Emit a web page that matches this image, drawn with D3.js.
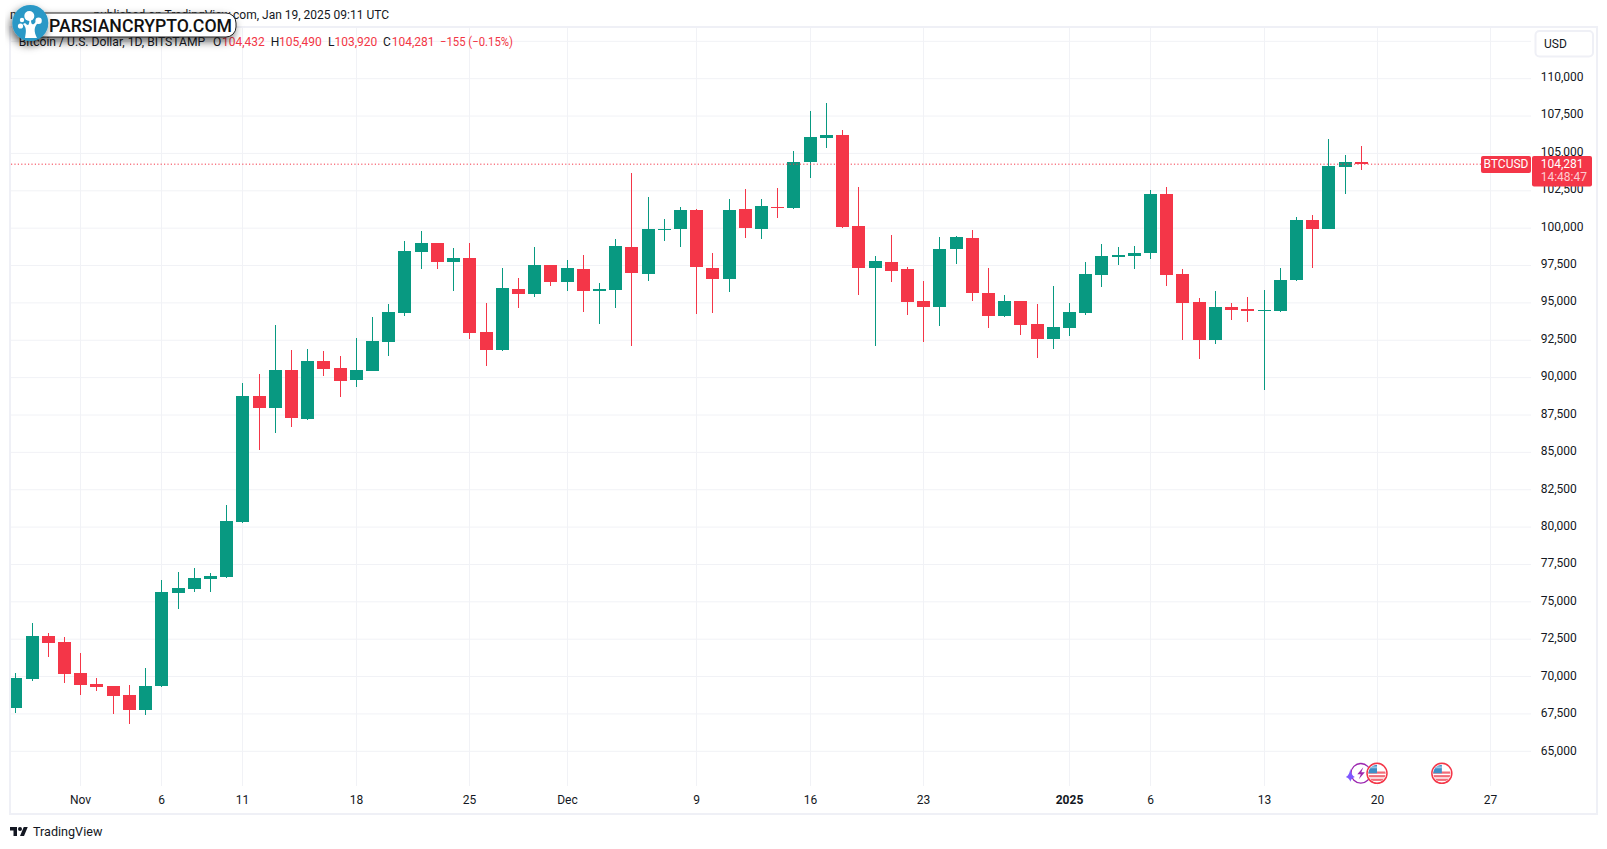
<!DOCTYPE html>
<html>
<head>
<meta charset="utf-8">
<script src="https://cdn.jsdelivr.net/npm/d3@7/dist/d3.min.js"></script>
<style>
html,body{margin:0;padding:0;background:#fff;overflow:hidden}
svg{display:block}
text{font-family:Roboto,"Noto Sans",sans-serif}
</style>
</head>
<body>
<svg id="chart" width="1607" height="849"></svg>
<script>
// Daily BTC/USD candles, 28 Oct 2024 .. 19 Jan 2025 (Oct 4, Nov 30, Dec 31, Jan 19 values)
const firstDay = "2024-10-28";
const open = [
 67900,69840,72720,72320,
 70240,69510,69370,68770,67770,69370,75590,75860,76530,76660,80340,88770,87970,90510,87230,91110,90650,89840,90440,92390,94330,98400,99010,97740,98010,93050,91850,95930,95600,97540,
 96400,97270,95800,95860,98740,96930,99880,99950,101220,97340,96600,101280,99950,101420,101350,104430,106030,106230,100150,97340,97740,97270,95130,94730,98610,99340,95660,94130,95130,93590,92590,
 93320,94330,96870,98070,98140,98340,102290,96930,95060,92520,94730,94590,94460,94460,96530,100550,99950,104090,104432];
const high = [
 70240,73590,72920,72650,
 71580,69910,69370,69440,70580,76460,77000,77270,76930,81480,89640,90240,93520,91850,91920,91780,91450,92650,94060,94930,99140,99810,99010,98670,99010,94990,97340,96670,98740,97540,
 97870,98210,96330,99280,103690,102090,100610,101420,101280,98340,101950,102620,101950,102690,105160,107840,108380,106570,102760,98140,99540,97400,96460,99410,99480,99880,97340,95530,95130,94930,96130,
 94990,97740,98940,98740,98810,102550,102760,97270,95330,95800,94990,95400,95860,97340,100750,100880,105970,104900,105490];
const low = [
 67570,69710,71310,69570,
 68770,69040,67500,66830,67430,69310,74520,75660,75660,76600,80280,85160,86300,86700,87170,90110,88700,89380,90440,91450,94130,97270,97270,95800,92590,90780,91780,94660,95400,96130,
 95800,94390,93590,94660,92120,96460,99140,98740,94260,94330,95730,99340,99280,100680,101280,103360,105360,100010,95530,92120,96400,94190,92390,93460,97600,95130,93320,94060,92850,91310,91920,
 92790,94190,96060,97540,97270,97940,96130,92520,91250,92250,93860,93720,89180,94390,96460,97340,99950,102290,103920];
const close = [
 69910,72720,72250,70170,
 69440,69310,68700,67770,69370,75660,75930,76600,76730,80410,88770,87970,90510,87300,91110,90580,89780,90510,92450,94390,98470,99010,97740,98010,92990,91850,96000,95600,97540,96400,
 97340,95800,95930,98810,97000,99950,99950,101220,97400,96600,101220,100010,101480,101350,104430,106100,106230,100080,97340,97800,97140,95060,94730,98610,99410,95660,94130,95130,93520,92590,93390,
 94390,96930,98140,98210,98340,102290,96870,94990,92520,94730,94530,94460,94530,96530,100550,99950,104160,104430,104281];

const priceTicks = [65000,67500,70000,72500,75000,77500,80000,82500,85000,87500,90000,92500,95000,97500,100000,102500,105000,107500,110000];
const gridPrices = priceTicks.concat([112500]);
const timeTickDates = ["2024-11-01","2024-11-06","2024-11-11","2024-11-18","2024-11-25","2024-12-01","2024-12-09","2024-12-16","2024-12-23","2025-01-01","2025-01-06","2025-01-13","2025-01-20","2025-01-27"];
const timeTickLabels = ["Nov","6","11","18","25","Dec","9","16","23","2025","6","13","20","27"];
const lastPrice = 104281;
const usEventDays = ["2025-01-20","2025-01-24"];
const legendParts = [
 ["Bitcoin / U.S. Dollar, 1D, BITSTAMP",18.7,"#131722",186.5],["O",213,"#131722"],["104,432",222,"#f23645"],
 ["H",270.7,"#131722"],["105,490",279,"#f23645"],["L",328,"#131722"],["103,920",334.5,"#f23645"],
 ["C",383,"#131722"],["104,281",391.7,"#f23645"],["\u2212155 (\u22120.15%)",440,"#f23645",73]];

const GREEN="#089981", RED="#f43648", GRID="#f1f2f6", FRAME="#eff0f6", INK="#131722";
const parse = d3.utcParse("%Y-%m-%d");
const dayOf = i => d3.utcDay.offset(parse(firstDay), i);

const x = d3.scaleUtc().domain([parse("2024-11-01"),parse("2025-01-27")]).range([80.786,1490.97]);
const y = d3.scaleLinear().domain([65000,110000]).range([751.3,78.7]);

const svg = d3.select("#chart");
const defs = svg.append("defs");
defs.append("clipPath").attr("id","pane").append("rect").attr("x",11).attr("y",28).attr("width",1520).attr("height",758);
const shadow = defs.append("filter").attr("id","sh").attr("x","-20%").attr("y","-60%").attr("width","140%").attr("height","240%");
shadow.append("feDropShadow").attr("dx",-2).attr("dy",4).attr("stdDeviation",4).attr("flood-color","#000").attr("flood-opacity",0.6);
defs.append("clipPath").attr("id","flagc").append("circle").attr("r",8.6);

// frame
svg.append("rect").attr("x",10).attr("y",27).attr("width",1587).attr("height",787).attr("fill","none").attr("stroke",FRAME).attr("stroke-width",2);

// grid
const hGrid = svg.append("g").attr("transform","translate(11,0)")
  .call(d3.axisRight(y).tickValues(gridPrices).tickSize(1520).tickFormat("").offset(0));
const vGrid = svg.append("g").attr("transform","translate(0,786)")
  .call(d3.axisBottom(x).tickValues(timeTickDates.map(parse)).tickSize(-758).tickFormat("").offset(0));
vGrid.selectAll(".tick").attr("transform",d=>`translate(${Math.floor(x(d))+0.5},0)`);
[hGrid,vGrid].forEach(g=>{g.select(".domain").remove();g.selectAll("line").attr("stroke",GRID).attr("stroke-width",1);});

// axes labels
const yAxis = svg.append("g").attr("transform","translate(1531,0)")
  .call(d3.axisRight(y).tickValues(priceTicks).tickSize(0).tickPadding(9.7).tickFormat(d3.format(",")).offset(0));
yAxis.select(".domain").remove();
yAxis.selectAll("text").attr("font-size",12).attr("fill",INK)
  .attr("font-family","Roboto").attr("dy",d=>(0.32*12-1.6+(110000-d)/45000*1.0));
const xAxis = svg.append("g").attr("transform","translate(0,786)")
  .call(d3.axisBottom(x).tickValues(timeTickDates.map(parse)).tickSize(0).tickPadding(9.5).tickFormat((d,i)=>timeTickLabels[i]).offset(0));
xAxis.select(".domain").remove();
xAxis.selectAll(".tick").attr("transform",d=>`translate(${Math.floor(x(d))+0.5},0)`);
xAxis.selectAll("text").attr("font-size",12).attr("fill",INK).attr("dy","0.71em")
  .attr("font-weight",(d,i)=>timeTickLabels[i]==="2025"?700:400);

// candles
const candles = svg.append("g").attr("clip-path","url(#pane)").attr("shape-rendering","crispEdges")
  .selectAll("g").data(open.map((o,i)=>({d:dayOf(i),o,h:high[i],l:low[i],c:close[i]}))).join("g");
const px = d => Math.floor(x(d.d));
const col = d => d.c>=d.o?GREEN:RED;
candles.append("rect").attr("x",px).attr("width",1)
  .attr("y",d=>y(d.h)).attr("height",d=>y(d.l)-y(d.h)).attr("fill",col);
candles.append("rect").attr("x",d=>px(d)-6).attr("width",13)
  .attr("y",d=>y(Math.max(d.o,d.c))).attr("height",d=>Math.max(1,Math.abs(y(d.o)-y(d.c)))).attr("fill",col);

// last price line and tags
svg.append("line").attr("x1",11).attr("x2",1481).attr("y1",y(lastPrice)).attr("y2",y(lastPrice))
  .attr("stroke",RED).attr("stroke-width",1).attr("stroke-dasharray","1.2 2.2");
svg.append("rect").attr("x",1481).attr("y",156).attr("width",50).attr("height",17).attr("rx",2).attr("fill",RED);
svg.append("rect").attr("x",1532).attr("y",156).attr("width",60).attr("height",30.5).attr("rx",2).attr("fill",RED);
svg.append("text").attr("x",1506).attr("y",168.2).attr("text-anchor","middle").attr("font-size",12).attr("fill","#fff").text("BTCUSD");
svg.append("text").attr("x",1540.7).attr("y",168.2).attr("font-size",12).attr("fill","#fff").text(d3.format(",")(lastPrice));
svg.append("text").attr("x",1540.7).attr("y",181.2).attr("font-size",12).attr("fill","#fff").attr("fill-opacity",0.75).text("14:48:47");

// currency box
svg.append("rect").attr("x",1535.5).attr("y",31).attr("width",57.5).attr("height",25.5).attr("rx",4).attr("fill","#fff").attr("stroke",FRAME).attr("stroke-width",2);
svg.append("text").attr("x",1544).attr("y",48).attr("font-size",12).attr("fill",INK).text("USD");

// events
const ev = svg.append("g").attr("transform",`translate(${x(parse("2025-01-19"))-0.5},773.3)`);
ev.append("circle").attr("r",9.8).attr("fill","#fff").attr("stroke","#9c27b0").attr("stroke-width",1.3);
ev.append("path").attr("d","M2.5-6L-3.5 1H0L-2 6L4-1H0.5Z").attr("fill","#9c27b0");
ev.append("path").attr("d","M-10.5-4.5Q-9.5 2.5-6 3.7Q-9.5 4.6-10.5 8.5Q-11.5 4.6-15 3.7Q-11.5 2.5-10.5-4.5Z").attr("fill","#7e57ff");
const flags = svg.append("g").selectAll("g").data(usEventDays.map(parse)).join("g")
  .attr("transform",d=>`translate(${x(d)-0.5},773.3)`);
flags.append("circle").attr("r",10).attr("fill","#fff").attr("stroke",RED).attr("stroke-width",1.5);
const fl = flags.append("g").attr("clip-path","url(#flagc)");
[-1.8,1.8,5.4].forEach(dy=>fl.append("rect").attr("x",-10).attr("y",dy).attr("width",20).attr("height",2.2).attr("fill","#f26b78"));
fl.append("rect").attr("x",-10).attr("y",-10).attr("width",10).attr("height",10).attr("fill","#3f8fc7");
fl.append("rect").attr("x",-8).attr("y",-7).attr("width",8).attr("height",2).attr("fill","#bcd9ee").attr("opacity",0.7);

// header and legend
svg.append("text").attr("x",10).attr("y",19).attr("font-size",12).attr("fill",INK).text("m");
svg.append("text").attr("x",389).attr("y",19).attr("text-anchor","end").attr("font-size",12).attr("fill",INK).text("published on TradingView.com, Jan 19, 2025 09:11 UTC");
const legend = svg.append("g").selectAll("text").data(legendParts).join("text")
  .attr("x",d=>d[1]).attr("y",46).attr("font-size",12).attr("fill",d=>d[2]).text(d=>d[0]);
legend.filter(d=>d[3]).attr("textLength",d=>d[3]).attr("lengthAdjust","spacingAndGlyphs");

// watermark badge
const badge = svg.append("g");
badge.append("rect").attr("x",28).attr("y",13).attr("width",208).attr("height",24).attr("rx",10).attr("fill","#fff").attr("stroke","#222").attr("stroke-width",1).attr("filter","url(#sh)");
badge.append("text").attr("x",49).attr("y",32).attr("font-size",18).attr("font-weight",500).attr("fill","#111")
  .attr("textLength",183).attr("lengthAdjust","spacingAndGlyphs").text("PARSIANCRYPTO.COM");
badge.append("circle").attr("cx",30.3).attr("cy",23).attr("r",18).attr("fill","#2a98c6").attr("filter","url(#sh)");
const tree = badge.append("g").attr("fill","#fff");
tree.append("path").attr("d","M25 38C26 32 27 28 23 24L25 23C28 26 29 26 29.5 20H31C31 25 33 26 36 21.5L38 23C33.5 27 34 32 37 38Z");
[[29.3,16,5],[38.6,20.8,3.2],[20.5,26,2.6],[22,20,2.2]].forEach(c=>tree.append("circle").attr("cx",c[0]).attr("cy",c[1]).attr("r",c[2]));

// footer
const tv = svg.append("g").attr("transform","translate(10,825) scale(0.5)").attr("fill",INK);
tv.append("path").attr("d","M14 22H7V11H0V4h14v18zM28 22h-8l7.5-18h8L28 22z");
tv.append("circle").attr("cx",20).attr("cy",8).attr("r",4);
svg.append("text").attr("x",33).attr("y",836).attr("font-size",12.6).attr("font-weight",400).attr("fill",INK).text("TradingView");
</script>
</body>
</html>
